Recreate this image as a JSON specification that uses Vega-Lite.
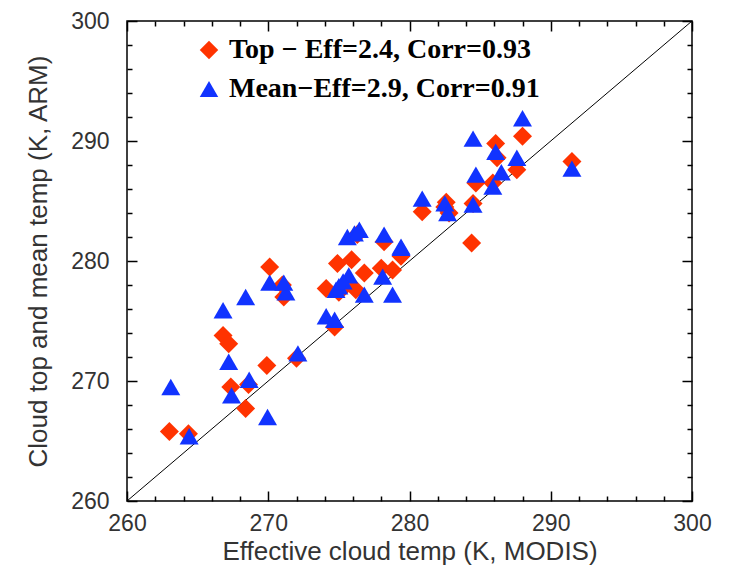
{
  "$schema": "https://vega.github.io/schema/vega-lite/v6.json",
  "width": 565,
  "height": 480,
  "autosize": "none",
  "padding": {"left": 127, "top": 21, "right": 40, "bottom": 73},
  "background": "white",
  "config": {
    "view": {"stroke": "black", "strokeWidth": 1.5},
    "axis": {"grid": false, "domain": false, "labelFont": "Liberation Sans", "titleFont": "Liberation Sans", "labelFontSize": 23, "titleFontSize": 26, "labelColor": "#333", "titleColor": "#333", "titleFontWeight": "normal", "tickColor": "black", "tickWidth": 1.5}
  },
  "datasets": {
    "pts": [
      {"s": "Top", "x": 263.0, "y": 265.8},
      {"s": "Top", "x": 264.35, "y": 265.6},
      {"s": "Top", "x": 266.8, "y": 273.8},
      {"s": "Top", "x": 267.2, "y": 273.1},
      {"s": "Top", "x": 267.35, "y": 269.5},
      {"s": "Top", "x": 268.6, "y": 269.7},
      {"s": "Top", "x": 268.4, "y": 267.7},
      {"s": "Top", "x": 269.9, "y": 271.3},
      {"s": "Top", "x": 272.0, "y": 271.9},
      {"s": "Top", "x": 271.1, "y": 277.0},
      {"s": "Top", "x": 270.1, "y": 279.5},
      {"s": "Top", "x": 271.0, "y": 278.0},
      {"s": "Top", "x": 274.1, "y": 277.7},
      {"s": "Top", "x": 274.7, "y": 274.5},
      {"s": "Top", "x": 274.9, "y": 279.8},
      {"s": "Top", "x": 275.9, "y": 280.1},
      {"s": "Top", "x": 276.8, "y": 279.0},
      {"s": "Top", "x": 276.2, "y": 277.6},
      {"s": "Top", "x": 275.5, "y": 278.0},
      {"s": "Top", "x": 278.0, "y": 279.4},
      {"s": "Top", "x": 278.8, "y": 279.25},
      {"s": "Top", "x": 276.3, "y": 282.2},
      {"s": "Top", "x": 278.2, "y": 281.6},
      {"s": "Top", "x": 279.4, "y": 280.4},
      {"s": "Top", "x": 275.0, "y": 277.4},
      {"s": "Top", "x": 280.9, "y": 284.1},
      {"s": "Top", "x": 282.6, "y": 284.9},
      {"s": "Top", "x": 282.8, "y": 284.0},
      {"s": "Top", "x": 284.5, "y": 284.8},
      {"s": "Top", "x": 284.4, "y": 281.5},
      {"s": "Top", "x": 284.7, "y": 286.5},
      {"s": "Top", "x": 285.9, "y": 286.5},
      {"s": "Top", "x": 286.1, "y": 289.8},
      {"s": "Top", "x": 288.0, "y": 290.4},
      {"s": "Top", "x": 287.6, "y": 287.6},
      {"s": "Top", "x": 291.5, "y": 288.3},
      {"s": "Top", "x": 286.2, "y": 288.6},
      {"s": "Top", "x": 282.5, "y": 284.5},
      {"s": "Mean", "x": 263.1, "y": 269.5},
      {"s": "Mean", "x": 264.4, "y": 265.4},
      {"s": "Mean", "x": 266.8, "y": 275.9},
      {"s": "Mean", "x": 268.4, "y": 277.0},
      {"s": "Mean", "x": 267.2, "y": 271.6},
      {"s": "Mean", "x": 267.4, "y": 268.8},
      {"s": "Mean", "x": 268.65, "y": 270.1},
      {"s": "Mean", "x": 269.95, "y": 267.0},
      {"s": "Mean", "x": 271.25, "y": 277.4},
      {"s": "Mean", "x": 272.1, "y": 272.3},
      {"s": "Mean", "x": 270.1, "y": 278.2},
      {"s": "Mean", "x": 271.1, "y": 278.2},
      {"s": "Mean", "x": 275.6, "y": 282.0},
      {"s": "Mean", "x": 276.1, "y": 282.3},
      {"s": "Mean", "x": 276.45, "y": 282.6},
      {"s": "Mean", "x": 278.2, "y": 282.2},
      {"s": "Mean", "x": 279.4, "y": 281.1},
      {"s": "Mean", "x": 275.7, "y": 278.8},
      {"s": "Mean", "x": 275.0, "y": 277.9},
      {"s": "Mean", "x": 274.8, "y": 277.6},
      {"s": "Mean", "x": 276.8, "y": 277.2},
      {"s": "Mean", "x": 278.1, "y": 278.7},
      {"s": "Mean", "x": 278.8, "y": 277.2},
      {"s": "Mean", "x": 274.1, "y": 275.4},
      {"s": "Mean", "x": 274.7, "y": 275.1},
      {"s": "Mean", "x": 275.3, "y": 278.3},
      {"s": "Mean", "x": 280.9, "y": 285.2},
      {"s": "Mean", "x": 282.5, "y": 284.8},
      {"s": "Mean", "x": 282.7, "y": 284.0},
      {"s": "Mean", "x": 284.5, "y": 284.7},
      {"s": "Mean", "x": 285.9, "y": 286.2},
      {"s": "Mean", "x": 279.4, "y": 281.2},
      {"s": "Mean", "x": 288.0, "y": 291.9},
      {"s": "Mean", "x": 284.5, "y": 290.2},
      {"s": "Mean", "x": 286.1, "y": 289.1},
      {"s": "Mean", "x": 287.6, "y": 288.6},
      {"s": "Mean", "x": 291.5, "y": 287.7},
      {"s": "Mean", "x": 284.7, "y": 287.2},
      {"s": "Mean", "x": 286.5, "y": 287.4}
    ],
    "diag": [
      {"x": 260, "y": 260},
      {"x": 300, "y": 300}
    ]
  },
  "layer": [
    {
      "data": {"name": "diag"},
      "mark": {"type": "line", "color": "black", "strokeWidth": 1},
      "encoding": {
        "x": {"field": "x", "type": "quantitative", "scale": {"domain": [260, 300], "nice": false},
          "axis": {"orient": "top", "values": [260,262,264,266,268,270,272,274,276,278,280,282,284,286,288,290,292,294,296,298,300], "labels": false, "title": null,
            "tickSize": {"condition": {"test": "datum.value % 10 === 0", "value": -10}, "value": -5}}},
        "y": {"field": "y", "type": "quantitative", "scale": {"domain": [260, 300], "nice": false},
          "axis": {"orient": "right", "values": [260,262,264,266,268,270,272,274,276,278,280,282,284,286,288,290,292,294,296,298,300], "labels": false, "title": null,
            "tickSize": {"condition": {"test": "datum.value % 10 === 0", "value": -10}, "value": -5}}}
      }
    },
    {
      "data": {"name": "pts"},
      "mark": {"type": "point", "filled": true, "opacity": 1, "size": 360},
      "encoding": {
        "x": {"field": "x", "type": "quantitative", "scale": {"domain": [260, 300], "nice": false},
          "axis": {"orient": "bottom", "values": [260,262,264,266,268,270,272,274,276,278,280,282,284,286,288,290,292,294,296,298,300],
            "labelExpr": "datum.value % 10 === 0 ? datum.label : ''", "title": "Effective cloud temp (K, MODIS)", "titlePadding": 3, "labelPadding": 21, "labelFlush": false,
            "tickSize": {"condition": {"test": "datum.value % 10 === 0", "value": -10}, "value": -5}}},
        "y": {"field": "y", "type": "quantitative", "scale": {"domain": [260, 300], "nice": false},
          "axis": {"orient": "left", "values": [260,262,264,266,268,270,272,274,276,278,280,282,284,286,288,290,292,294,296,298,300],
            "labelExpr": "datum.value % 10 === 0 ? datum.label : ''", "title": "Cloud top and mean temp (K, ARM)", "titlePadding": 19, "labelPadding": 28, "labelFlush": false,
            "tickSize": {"condition": {"test": "datum.value % 10 === 0", "value": -10}, "value": -5}}},
        "color": {"field": "s", "type": "nominal", "scale": {"domain": ["Top", "Mean"], "range": ["#ff3300", "#1133ff"]},
          "legend": {"orient": "none", "legendX": 68, "legendY": 15, "title": null, "labelFont": "Liberation Serif", "labelFontWeight": "bold", "labelFontSize": 28, "labelColor": "black", "symbolSize": 340, "symbolStrokeWidth": 0, "rowPadding": 11, "labelLimit": 0, "labelOffset": 6,
            "labelExpr": "datum.value == 'Top' ? 'Top − Eff=2.4, Corr=0.93' : 'Mean−Eff=2.9, Corr=0.91'"}},
        "shape": {"field": "s", "type": "nominal", "scale": {"domain": ["Top", "Mean"], "range": ["diamond", "triangle-up"]}}
      }
    }
  ],
  "resolve": {"axis": {"x": "independent", "y": "independent"}}
}
